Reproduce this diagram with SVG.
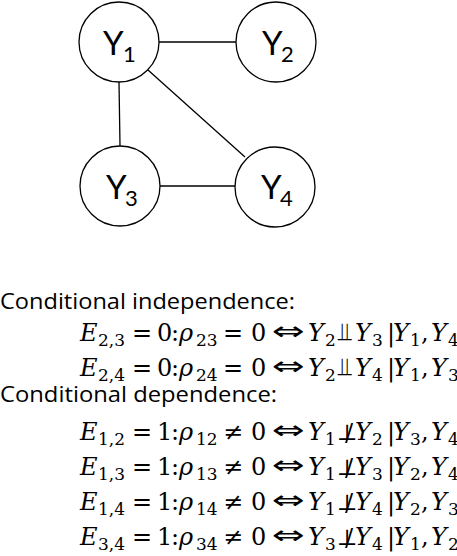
<svg xmlns="http://www.w3.org/2000/svg" width="457" height="556" viewBox="0 0 457 556">
<style>
.node{fill:#fff;stroke:#000;stroke-width:1.3}
.edge{stroke:#000;stroke-width:1.3;fill:none}
.lbl{font-family:Lato,"Open Sans",sans-serif;font-size:33px;fill:#000}
.lsub{font-size:22px}
.hdr{font-family:"Open Sans",Lato,sans-serif;font-size:22px;fill:#000}
.m{font-family:"DejaVu Serif","Liberation Serif",serif;font-size:24px;fill:#000}
.i{font-style:italic}
.s{font-size:17px}
.arr{font-family:"DejaVu Sans",sans-serif;font-size:26px;fill:#000}
.ind{font-family:"DejaVu Sans",sans-serif;font-size:25px;fill:#000}
.perp{font-family:"DejaVu Serif",serif;font-size:22px;fill:#000}
.sl{font-family:"DejaVu Serif",serif;font-size:24px;fill:#000}
</style>
<rect width="457" height="556" fill="#fff"/>
<g id="edges">
<line class="edge" x1="159" y1="42" x2="236" y2="42"/>
<line class="edge" x1="119" y1="82" x2="120" y2="146"/>
<line class="edge" x1="148" y1="70" x2="245" y2="157"/>
<line class="edge" x1="160" y1="186" x2="235" y2="186"/>
</g>
<g id="Y1"><circle class="node" cx="119" cy="42" r="40"/><text class="lbl" x="103" y="55">Y</text><text class="lbl lsub" x="123" y="62">1</text></g>
<g id="Y2"><circle class="node" cx="276" cy="42" r="40"/><text class="lbl" x="262" y="55">Y</text><text class="lbl lsub" x="281" y="62">2</text></g>
<g id="Y3"><circle class="node" cx="120" cy="186" r="40"/><text class="lbl" x="106" y="199">Y</text><text class="lbl lsub" x="125" y="206">3</text></g>
<g id="Y4"><circle class="node" cx="275" cy="187" r="40"/><text class="lbl" x="261" y="199">Y</text><text class="lbl lsub" x="280" y="206">4</text></g>
<g id="text">
<text class="hdr" x="0" y="309" textLength="295" lengthAdjust="spacingAndGlyphs">Conditional independence:</text>
<text class="hdr" x="0" y="402" textLength="277" lengthAdjust="spacingAndGlyphs">Conditional dependence:</text>

<text class="m" y="341"><tspan class="i" x="80">E</tspan><tspan class="s" x="98" dy="5">2,3</tspan><tspan x="132" dy="-5">=</tspan><tspan x="157">0</tspan><tspan x="171">:</tspan><tspan class="i" x="179">ρ</tspan><tspan class="s" x="196" dy="5">23</tspan><tspan x="223" dy="-5">=</tspan><tspan x="251">0</tspan><tspan class="i" x="308">Y</tspan><tspan class="s" x="325" dy="5">2</tspan><tspan x="355" dy="-5" class="i">Y</tspan><tspan class="s" x="372" dy="5">3</tspan><tspan x="387" dy="-5">|</tspan><tspan class="i" x="393">Y</tspan><tspan class="s" x="410" dy="5">1</tspan><tspan x="421" dy="-5">,</tspan><tspan class="i" x="431">Y</tspan><tspan class="s" x="448" dy="5">4</tspan></text>
<text class="arr" x="272" y="340" textLength="33" lengthAdjust="spacingAndGlyphs">⇔</text>
<text class="ind" x="338" y="341">⫫</text>

<text class="m" y="376"><tspan class="i" x="80">E</tspan><tspan class="s" x="98" dy="5">2,4</tspan><tspan x="132" dy="-5">=</tspan><tspan x="157">0</tspan><tspan x="171">:</tspan><tspan class="i" x="179">ρ</tspan><tspan class="s" x="196" dy="5">24</tspan><tspan x="223" dy="-5">=</tspan><tspan x="251">0</tspan><tspan class="i" x="308">Y</tspan><tspan class="s" x="325" dy="5">2</tspan><tspan x="355" dy="-5" class="i">Y</tspan><tspan class="s" x="372" dy="5">4</tspan><tspan x="387" dy="-5">|</tspan><tspan class="i" x="393">Y</tspan><tspan class="s" x="410" dy="5">1</tspan><tspan x="421" dy="-5">,</tspan><tspan class="i" x="431">Y</tspan><tspan class="s" x="448" dy="5">3</tspan></text>
<text class="arr" x="272" y="375" textLength="33" lengthAdjust="spacingAndGlyphs">⇔</text>
<text class="ind" x="338" y="376">⫫</text>

<text class="m" y="440"><tspan class="i" x="80">E</tspan><tspan class="s" x="98" dy="5">1,2</tspan><tspan x="132" dy="-5">=</tspan><tspan x="157">1</tspan><tspan x="171">:</tspan><tspan class="i" x="179">ρ</tspan><tspan class="s" x="196" dy="5">12</tspan><tspan x="223" dy="-5">≠</tspan><tspan x="251">0</tspan><tspan class="i" x="308">Y</tspan><tspan class="s" x="325" dy="5">1</tspan><tspan x="355" dy="-5" class="i">Y</tspan><tspan class="s" x="372" dy="5">2</tspan><tspan x="387" dy="-5">|</tspan><tspan class="i" x="393">Y</tspan><tspan class="s" x="410" dy="5">3</tspan><tspan x="421" dy="-5">,</tspan><tspan class="i" x="431">Y</tspan><tspan class="s" x="448" dy="5">4</tspan></text>
<text class="arr" x="272" y="439" textLength="33" lengthAdjust="spacingAndGlyphs">⇔</text>
<text class="perp" x="337" y="440">⊥</text><text class="sl" x="345" y="441">/</text>

<text class="m" y="475"><tspan class="i" x="80">E</tspan><tspan class="s" x="98" dy="5">1,3</tspan><tspan x="132" dy="-5">=</tspan><tspan x="157">1</tspan><tspan x="171">:</tspan><tspan class="i" x="179">ρ</tspan><tspan class="s" x="196" dy="5">13</tspan><tspan x="223" dy="-5">≠</tspan><tspan x="251">0</tspan><tspan class="i" x="308">Y</tspan><tspan class="s" x="325" dy="5">1</tspan><tspan x="355" dy="-5" class="i">Y</tspan><tspan class="s" x="372" dy="5">3</tspan><tspan x="387" dy="-5">|</tspan><tspan class="i" x="393">Y</tspan><tspan class="s" x="410" dy="5">2</tspan><tspan x="421" dy="-5">,</tspan><tspan class="i" x="431">Y</tspan><tspan class="s" x="448" dy="5">4</tspan></text>
<text class="arr" x="272" y="474" textLength="33" lengthAdjust="spacingAndGlyphs">⇔</text>
<text class="perp" x="337" y="475">⊥</text><text class="sl" x="345" y="476">/</text>

<text class="m" y="510"><tspan class="i" x="80">E</tspan><tspan class="s" x="98" dy="5">1,4</tspan><tspan x="132" dy="-5">=</tspan><tspan x="157">1</tspan><tspan x="171">:</tspan><tspan class="i" x="179">ρ</tspan><tspan class="s" x="196" dy="5">14</tspan><tspan x="223" dy="-5">≠</tspan><tspan x="251">0</tspan><tspan class="i" x="308">Y</tspan><tspan class="s" x="325" dy="5">1</tspan><tspan x="355" dy="-5" class="i">Y</tspan><tspan class="s" x="372" dy="5">4</tspan><tspan x="387" dy="-5">|</tspan><tspan class="i" x="393">Y</tspan><tspan class="s" x="410" dy="5">2</tspan><tspan x="421" dy="-5">,</tspan><tspan class="i" x="431">Y</tspan><tspan class="s" x="448" dy="5">3</tspan></text>
<text class="arr" x="272" y="509" textLength="33" lengthAdjust="spacingAndGlyphs">⇔</text>
<text class="perp" x="337" y="510">⊥</text><text class="sl" x="345" y="511">/</text>

<text class="m" y="545"><tspan class="i" x="80">E</tspan><tspan class="s" x="98" dy="5">3,4</tspan><tspan x="132" dy="-5">=</tspan><tspan x="157">1</tspan><tspan x="171">:</tspan><tspan class="i" x="179">ρ</tspan><tspan class="s" x="196" dy="5">34</tspan><tspan x="223" dy="-5">≠</tspan><tspan x="251">0</tspan><tspan class="i" x="308">Y</tspan><tspan class="s" x="325" dy="5">3</tspan><tspan x="355" dy="-5" class="i">Y</tspan><tspan class="s" x="372" dy="5">4</tspan><tspan x="387" dy="-5">|</tspan><tspan class="i" x="393">Y</tspan><tspan class="s" x="410" dy="5">1</tspan><tspan x="421" dy="-5">,</tspan><tspan class="i" x="431">Y</tspan><tspan class="s" x="448" dy="5">2</tspan></text>
<text class="arr" x="272" y="544" textLength="33" lengthAdjust="spacingAndGlyphs">⇔</text>
<text class="perp" x="337" y="545">⊥</text><text class="sl" x="345" y="546">/</text>
</g>
</svg>
